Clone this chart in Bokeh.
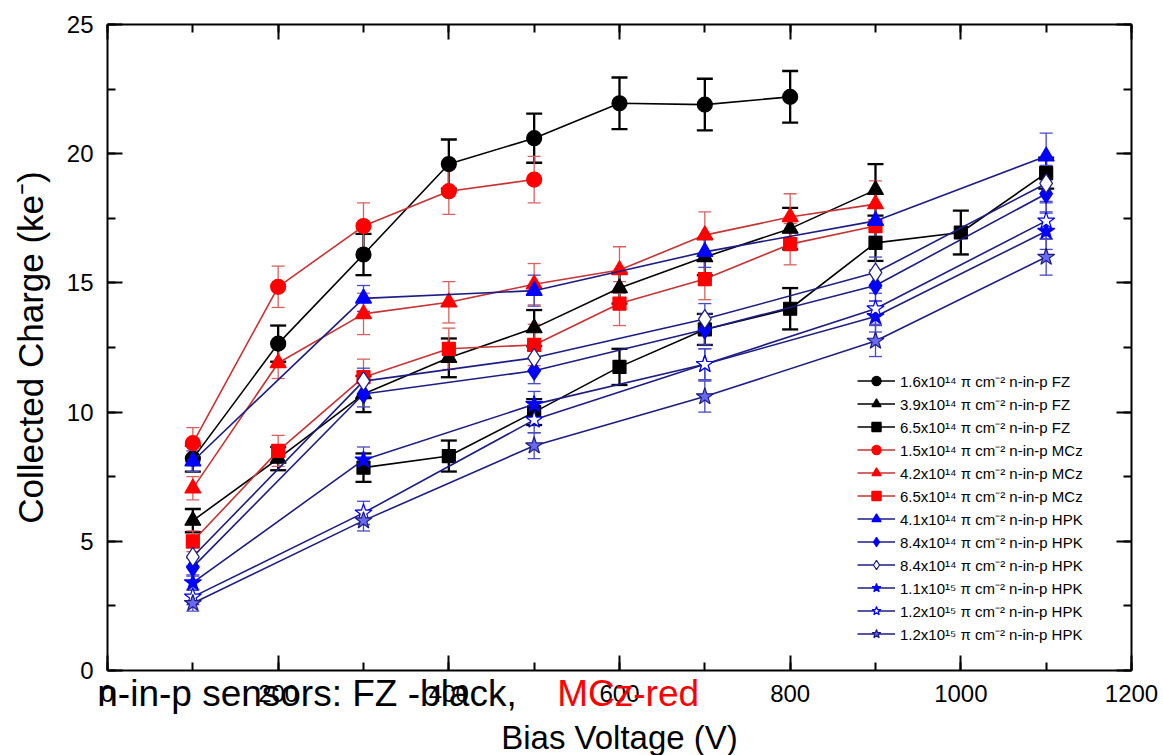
from bokeh.plotting import figure
from bokeh.models import (ColumnDataSource, Whisker, TeeHead, Legend, LegendItem,
                          LinearAxis, Label, SingleIntervalTicker, CustomJSTickFormatter, Range1d)
from bokeh.embed import file_html
from bokeh.resources import INLINE

# ---------------- data ----------------
fz_16_v = [100, 200, 300, 400, 500, 600, 700, 800]
fz_16_q = [8.2, 12.65, 16.1, 19.6, 20.6, 21.95, 21.9, 22.2]
fz_16_e = [0.5, 0.7, 0.8, 0.95, 0.95, 1.0, 1.0, 1.0]

fz_39_v = [100, 200, 300, 400, 500, 600, 700, 800, 900]
fz_39_q = [5.8, 8.2, 10.7, 12.1, 13.25, 14.8, 16.0, 17.1, 18.6]
fz_39_e = [0.45, 0.45, 0.7, 0.75, 0.7, 0.6, 0.7, 0.8, 1.0]

fz_65_v = [300, 400, 500, 600, 700, 800, 900, 1000, 1100]
fz_65_q = [7.85, 8.3, 10.0, 11.75, 13.2, 14.0, 16.55, 16.95, 19.25]
fz_65_e = [0.55, 0.6, 0.5, 0.7, 0.6, 0.8, 0.7, 0.85, 0.6]

mcz_15_v = [100, 200, 300, 400, 500]
mcz_15_q = [8.8, 14.85, 17.2, 18.55, 19.0]
mcz_15_e = [0.6, 0.8, 0.9, 0.9, 0.9]

mcz_42_v = [100, 200, 300, 400, 500, 600, 700, 800, 900]
mcz_42_q = [7.05, 11.9, 13.8, 14.25, 14.95, 15.5, 16.85, 17.55, 18.05]
mcz_42_e = [0.45, 0.6, 0.8, 0.8, 0.8, 0.9, 0.9, 0.9, 0.9]

mcz_65_v = [100, 200, 300, 400, 500, 600, 700, 800, 900]
mcz_65_q = [5.0, 8.5, 11.35, 12.45, 12.6, 14.2, 15.15, 16.5, 17.2]
mcz_65_e = [0.4, 0.6, 0.7, 0.8, 0.8, 0.85, 0.8, 0.8, 0.8]

hpk_v = [100, 300, 500, 700, 900, 1100]
hpk_41_q = [8.1, 14.4, 14.7, 16.2, 17.4, 19.9]
hpk_41_e = [0.4, 0.5, 0.6, 0.6, 0.6, 0.9]
hpk_84_q = [4.0, 10.7, 11.6, 13.2, 14.9, 18.45]
hpk_84_e = [0.35, 0.5, 0.5, 0.6, 0.6, 0.7]
hpk_84o_q = [4.4, 11.2, 12.1, 13.6, 15.4, 18.85]
hpk_84o_e = [0.35, 0.5, 0.5, 0.6, 0.6, 0.7]
hpk_11_q = [3.4, 8.15, 10.3, 11.85, 13.7, 17.0]
hpk_11_e = [0.3, 0.5, 0.5, 0.6, 0.6, 0.7]
hpk_12o_q = [2.85, 6.1, 9.7, 11.85, 14.0, 17.4]
hpk_12o_e = [0.3, 0.45, 0.5, 0.6, 0.6, 0.7]
hpk_12_q = [2.6, 5.8, 8.7, 10.6, 12.75, 16.0]
hpk_12_e = [0.3, 0.4, 0.5, 0.6, 0.6, 0.7]

labels = [
    "1.6x10\u00b9\u2074 \u03c0 cm\u207b\u00b2 n-in-p FZ",
    "3.9x10\u00b9\u2074 \u03c0 cm\u207b\u00b2 n-in-p FZ",
    "6.5x10\u00b9\u2074 \u03c0 cm\u207b\u00b2 n-in-p FZ",
    "1.5x10\u00b9\u2074 \u03c0 cm\u207b\u00b2 n-in-p MCz",
    "4.2x10\u00b9\u2074 \u03c0 cm\u207b\u00b2 n-in-p MCz",
    "6.5x10\u00b9\u2074 \u03c0 cm\u207b\u00b2 n-in-p MCz",
    "4.1x10\u00b9\u2074 \u03c0 cm\u207b\u00b2 n-in-p HPK",
    "8.4x10\u00b9\u2074 \u03c0 cm\u207b\u00b2 n-in-p HPK",
    "8.4x10\u00b9\u2074 \u03c0 cm\u207b\u00b2 n-in-p HPK",
    "1.1x10\u00b9\u2075 \u03c0 cm\u207b\u00b2 n-in-p HPK",
    "1.2x10\u00b9\u2075 \u03c0 cm\u207b\u00b2 n-in-p HPK",
    "1.2x10\u00b9\u2075 \u03c0 cm\u207b\u00b2 n-in-p HPK",
]

FONT = "Liberation Sans"
BLACK = "#000000"
RED_LINE = "#c83232"
RED_ERR = "#d86060"
RED = "#ff0000"
NAVY = "#1c1c84"
BLUE = "#0000ff"
BLUE_ERR = "#4848c8"

# (v, q, e, marker, fill, marker line, line colour, err colour, size, err width, label)
series = [
    (fz_16_v, fz_16_q, fz_16_e, "circle", BLACK, BLACK, BLACK, BLACK, 15, 2.3, labels[0]),
    (fz_39_v, fz_39_q, fz_39_e, "triangle", BLACK, BLACK, BLACK, BLACK, 16, 2.3, labels[1]),
    (fz_65_v, fz_65_q, fz_65_e, "square", BLACK, BLACK, BLACK, BLACK, 13, 2.3, labels[2]),
    (mcz_15_v, mcz_15_q, mcz_15_e, "circle", RED, RED, RED_LINE, RED_ERR, 15, 1.3, labels[3]),
    (mcz_42_v, mcz_42_q, mcz_42_e, "triangle", RED, RED, RED_LINE, RED_ERR, 16, 1.3, labels[4]),
    (mcz_65_v, mcz_65_q, mcz_65_e, "square", RED, RED, RED_LINE, RED_ERR, 13, 1.3, labels[5]),
    (hpk_v, hpk_41_q, hpk_41_e, "triangle", BLUE, BLUE, NAVY, BLUE_ERR, 16, 1.3, labels[6]),
    (hpk_v, hpk_84_q, hpk_84_e, "diamond", BLUE, BLUE, NAVY, BLUE_ERR, 19, 1.3, labels[7]),
    (hpk_v, hpk_84o_q, hpk_84o_e, "diamond", "#ffffff", NAVY, NAVY, BLUE_ERR, 19, 1.3, labels[8]),
    (hpk_v, hpk_11_q, hpk_11_e, "star", BLUE, BLUE, NAVY, BLUE_ERR, 18, 1.3, labels[9]),
    (hpk_v, hpk_12o_q, hpk_12o_e, "star", "#ffffff", BLUE, NAVY, BLUE_ERR, 18, 1.3, labels[10]),
    (hpk_v, hpk_12_q, hpk_12_e, "star", "#6a6af0", NAVY, NAVY, BLUE_ERR, 18, 1.3, labels[11]),
]

# The frame covers the whole canvas; the four axes are fixed at the data box edges,
# so the caption that overlaps the x tick labels can be drawn without clipping.
X_START, X_END = -125.4, 1234.0
Y_START, Y_END = -3.289, 25.929

p = figure(width=1160, height=755, output_backend="svg", toolbar_location=None,
           x_range=Range1d(X_START, X_END), y_range=Range1d(Y_START, Y_END),
           min_border=0, min_border_left=0, min_border_right=0,
           min_border_top=0, min_border_bottom=0)
p.xgrid.visible = False
p.ygrid.visible = False
p.outline_line_alpha = 0
p.background_fill_color = "white"
p.border_fill_color = "white"


def style_axis(ax):
    ax.axis_line_width = 2
    ax.major_tick_line_width = 2
    ax.minor_tick_line_width = 2
    ax.major_tick_in = 15
    ax.major_tick_out = 0
    ax.minor_tick_in = 8
    ax.minor_tick_out = 0
    ax.major_label_text_font = FONT
    ax.major_label_text_font_size = "24px"
    ax.major_label_text_color = BLACK
    ax.axis_label_text_font = FONT
    ax.axis_label_text_font_style = "normal"
    ax.axis_label_text_color = BLACK


xax = p.xaxis[0]
yax = p.yaxis[0]
style_axis(xax)
style_axis(yax)
xax.axis_label_text_font_size = "33px"
yax.axis_label_text_font_size = "35px"
xax.ticker = SingleIntervalTicker(interval=200, num_minor_ticks=2)
yax.ticker = SingleIntervalTicker(interval=5, num_minor_ticks=2)
xax.fixed_location = 0
xax.bounds = (0, 1200)
yax.fixed_location = 0
yax.bounds = (0, 25)
xax.axis_label = "Bias Voltage (V)"
yax.axis_label = "Collected Charge (ke\u207b)"
xax.major_label_standoff = 14
xax.axis_label_standoff = 14
yax.major_label_standoff = 14
yax.axis_label_standoff = 14

blank = CustomJSTickFormatter(code="return ''")
top = LinearAxis(ticker=SingleIntervalTicker(interval=200, num_minor_ticks=2), formatter=blank,
                 fixed_location=25, bounds=(0, 1200))
right = LinearAxis(ticker=SingleIntervalTicker(interval=5, num_minor_ticks=2), formatter=blank,
                   fixed_location=1200, bounds=(0, 25))
for ax in [top, right]:
    style_axis(ax)
    ax.major_label_standoff = 0
    ax.major_label_text_font_size = "1px"
p.add_layout(top, "above")
p.add_layout(right, "right")

items = []
for (v, q, e, mk, fill, mline, lcol, ecol, size, ew, lab) in series:
    src = ColumnDataSource(dict(x=v, y=q,
                                lo=[a - b for a, b in zip(q, e)],
                                hi=[a + b for a, b in zip(q, e)]))
    capw = 16 if ew > 2 else 13
    w = Whisker(source=src, base="x", lower="lo", upper="hi",
                line_color=ecol, line_width=ew,
                upper_head=TeeHead(size=capw, line_color=ecol, line_width=ew),
                lower_head=TeeHead(size=capw, line_color=ecol, line_width=ew))
    p.add_layout(w)
    lr = p.line("x", "y", source=src, line_color=lcol, line_width=1.6)
    sr = p.scatter("x", "y", source=src, marker=mk, size=size,
                   fill_color=fill, line_color=mline, line_width=1.2)
    items.append(LegendItem(label=lab, renderers=[lr, sr]))

legend = Legend(items=items, location=(857, 110), padding=0, margin=0, spacing=0,
                glyph_width=38, glyph_height=23, label_height=23,
                label_standoff=5,
                label_text_font=FONT, label_text_font_size="15px",
                label_text_color=BLACK,
                border_line_alpha=0, background_fill_alpha=0)
p.add_layout(legend)

p.add_layout(Label(x=-12, y=-0.9, text="n-in-p sensors: FZ -black,", level="overlay",
                   text_font=FONT, text_font_size="37px", text_color=BLACK,
                   text_baseline="middle", text_align="left"))
p.add_layout(Label(x=527, y=-0.9, text="MCz-red", level="overlay",
                   text_font=FONT, text_font_size="37px", text_color=RED,
                   text_baseline="middle", text_align="left"))

open("out.html", "w").write(file_html(p, INLINE))
